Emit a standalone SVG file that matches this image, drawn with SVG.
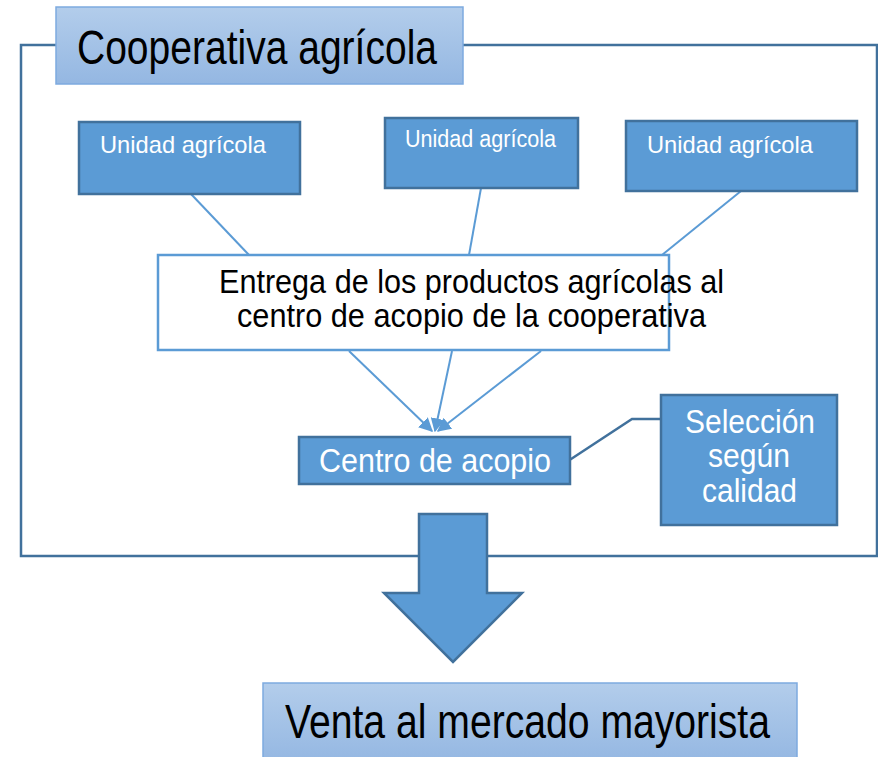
<svg xmlns="http://www.w3.org/2000/svg" width="878" height="757" viewBox="0 0 878 757">
<defs>
<linearGradient id="g" x1="0" y1="0" x2="0" y2="1">
<stop offset="0" stop-color="#b3cdeb"/>
<stop offset="1" stop-color="#94b7e2"/>
</linearGradient>
<marker id="ah" viewBox="0 0 10 10" refX="9" refY="5" markerWidth="7" markerHeight="7" markerUnits="strokeWidth" orient="auto">
<path d="M0,0 L10,5 L0,10 Z" fill="#5b9bd5"/>
</marker>
<style>
.t{font-family:"Liberation Sans",Arial,sans-serif;}
.blue{fill:#5b9bd5;stroke:#41719c;stroke-width:2.5;}
.grad{fill:url(#g);stroke:#7eaadf;stroke-width:1.5;}
.w{fill:#ffffff;}
.k{fill:#000000;}
.c{stroke:#5b9bd5;stroke-width:2;fill:none;}
</style>
</defs>
<g id="frame">
<path d="M56,45 H21 V556 H877 V45 H463" fill="none" stroke="#41719c" stroke-width="2.5"/>
</g>
<g id="connectors">
<line class="c" x1="191" y1="194" x2="249" y2="255"/>
<line class="c" x1="481" y1="188" x2="469" y2="255"/>
<line class="c" x1="741" y1="191" x2="662" y2="255"/>
<line class="c" x1="349" y1="351" x2="432" y2="431" marker-end="url(#ah)"/>
<line class="c" x1="452" y1="351" x2="435" y2="431" marker-end="url(#ah)"/>
<line class="c" x1="541" y1="351" x2="438" y2="431" marker-end="url(#ah)"/>
<polyline points="565,463 632,419 660,419" fill="none" stroke="#41719c" stroke-width="2.5"/>
</g>
<g id="title">
<rect class="grad" x="56" y="7" width="407" height="77"/>
<text class="t k" x="77" y="64" font-size="48" textLength="360" lengthAdjust="spacingAndGlyphs">Cooperativa agrícola</text>
</g>
<g id="unidad1">
<rect class="blue" x="79" y="122" width="221" height="72"/>
<text class="t w" x="100" y="153" font-size="24" textLength="166" lengthAdjust="spacingAndGlyphs">Unidad agrícola</text>
</g>
<g id="unidad2">
<rect class="blue" x="385" y="118" width="193" height="70"/>
<text class="t w" x="405" y="147" font-size="23" textLength="151" lengthAdjust="spacingAndGlyphs">Unidad agrícola</text>
</g>
<g id="unidad3">
<rect class="blue" x="626" y="121" width="231" height="70"/>
<text class="t w" x="647" y="153" font-size="24" textLength="166" lengthAdjust="spacingAndGlyphs">Unidad agrícola</text>
</g>
<g id="entrega">
<rect x="158" y="255" width="511" height="95" fill="#ffffff" stroke="#5b9bd5" stroke-width="2.5"/>
<text class="t k" x="219" y="293" font-size="33" textLength="505" lengthAdjust="spacingAndGlyphs">Entrega de los productos agrícolas al</text>
<text class="t k" x="237" y="327" font-size="33" textLength="469" lengthAdjust="spacingAndGlyphs">centro de acopio de la cooperativa</text>
</g>
<g id="centro">
<rect class="blue" x="299" y="437" width="271" height="47"/>
<text class="t w" x="319" y="472" font-size="33" textLength="232" lengthAdjust="spacingAndGlyphs">Centro de acopio</text>
</g>
<g id="seleccion">
<rect class="blue" x="661" y="395" width="176" height="130"/>
<text class="t w" x="685" y="433" font-size="33" textLength="130" lengthAdjust="spacingAndGlyphs">Selección</text>
<text class="t w" x="708" y="467" font-size="33" textLength="82" lengthAdjust="spacingAndGlyphs">según</text>
<text class="t w" x="702" y="502" font-size="33" textLength="95" lengthAdjust="spacingAndGlyphs">calidad</text>
</g>
<g id="arrow">
<path d="M419,514 H487 V593 H522 L453,662 L384,593 H419 Z" fill="#5b9bd5" stroke="#41719c" stroke-width="2.5" stroke-linejoin="miter"/>
</g>
<g id="venta">
<rect class="grad" x="263" y="683" width="534" height="80"/>
<text class="t k" x="285" y="738" font-size="48" textLength="485" lengthAdjust="spacingAndGlyphs">Venta al mercado mayorista</text>
</g>
</svg>
